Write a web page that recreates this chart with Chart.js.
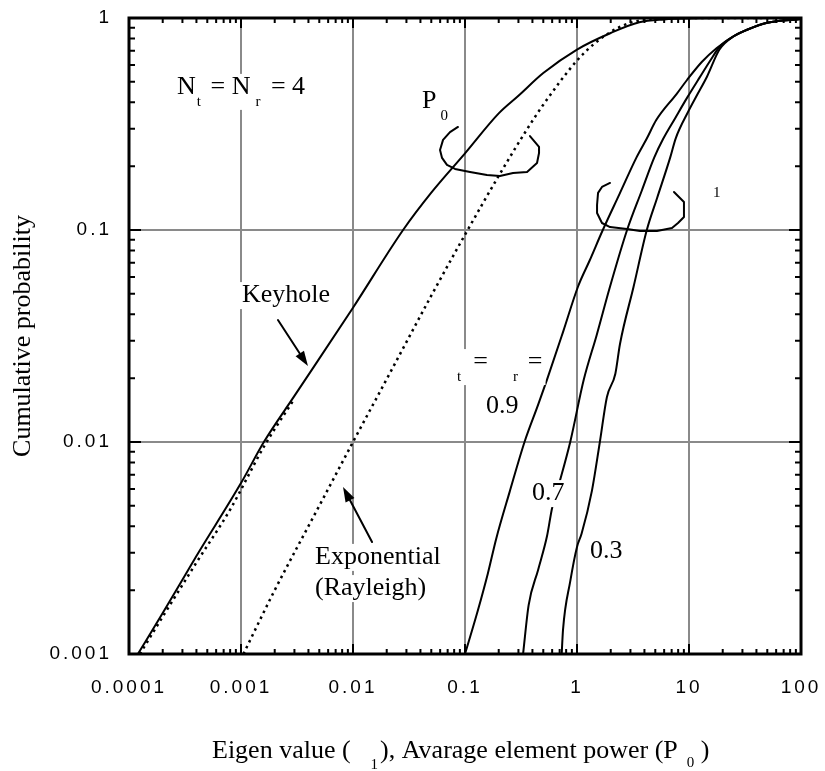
<!DOCTYPE html>
<html>
<head>
<meta charset="utf-8">
<script src="https://cdn.jsdelivr.net/npm/chart.js@4.4.1/dist/chart.umd.min.js"></script>
<style>
  body { margin: 0; background: #fff; }
  canvas { display: block; }
</style>
</head>
<body>
<canvas id="myChart" width="825" height="771"></canvas>
<script>
// tick labels
const xTickLabels = ['0.0001', '0.001', '0.01', '0.1', '1', '10', '100'];
const yTickLabels = ['0.001', '0.01', '0.1', '1'];

// keyhole channel, P0 (solid)
const keyholeX = [0.00012, 0.0002, 0.0004, 0.001, 0.0016, 0.003, 0.01, 0.028, 0.05, 0.1, 0.2, 0.3, 0.5, 1, 2, 3.6, 6, 10, 30, 100];
const keyholeY = [0.001, 0.00156, 0.0029, 0.0064, 0.01, 0.0165, 0.043, 0.1, 0.15, 0.23, 0.355, 0.43, 0.55, 0.71, 0.85, 0.955, 0.985, 0.995, 1, 1];
// dotted trace running along the keyhole curve at the low end
const keyholeDotX = [0.000125, 0.0002, 0.0004, 0.0008, 0.0016, 0.003];
const keyholeDotY = [0.001, 0.0015, 0.0027, 0.0048, 0.0095, 0.016];
// exponential (Rayleigh), dotted
const expX = [0.00105, 0.002, 0.005, 0.01, 0.02, 0.05, 0.1, 0.2, 0.36, 0.5, 1, 1.4, 2, 3, 5, 10, 100];
const expY = [0.001, 0.002, 0.005, 0.01, 0.0198, 0.049, 0.095, 0.18, 0.30, 0.39, 0.63, 0.75, 0.86, 0.95, 0.99, 1, 1];
// largest eigen value, rho_t = rho_r = 0.9 / 0.7 / 0.3
const rho09X = [0.1, 0.13, 0.16, 0.19, 0.25, 0.34, 0.45, 0.54, 0.75, 1.02, 1.3, 1.7, 2.4, 3.4, 4.2, 5.1, 7.8, 9.6, 13, 17.6, 25, 33, 50, 100];
const rho09Y = [0.001, 0.0016, 0.0024, 0.0035, 0.0058, 0.01, 0.015, 0.0197, 0.033, 0.054, 0.072, 0.1, 0.148, 0.22, 0.27, 0.33, 0.44, 0.51, 0.62, 0.72, 0.82, 0.88, 0.95, 0.99];
const rho07X = [0.33, 0.37, 0.45, 0.54, 0.6, 0.7, 0.87, 1.15, 1.5, 1.97, 2.8, 3.8, 4.9, 5.9, 7.5, 9.6, 12.5, 15.5, 18.7, 25, 33, 50, 100];
const rho07Y = [0.001, 0.0017, 0.0025, 0.0036, 0.0049, 0.0065, 0.01, 0.0197, 0.032, 0.054, 0.1, 0.154, 0.22, 0.27, 0.336, 0.42, 0.526, 0.63, 0.73, 0.82, 0.88, 0.95, 0.99];
const rho03X = [0.73, 0.75, 0.87, 1.0, 1.1, 1.36, 1.6, 1.85, 2.2, 2.42, 3.2, 4.2, 5.2, 6.8, 7.6, 9.8, 12, 14.5, 18.7, 25, 33, 50, 100];
const rho03Y = [0.001, 0.0013, 0.0022, 0.0032, 0.0037, 0.0059, 0.01, 0.0163, 0.021, 0.029, 0.054, 0.1, 0.142, 0.22, 0.27, 0.36, 0.44, 0.53, 0.71, 0.82, 0.88, 0.95, 0.99];

const SERIF = '"Liberation Serif", "Times New Roman", serif';
const SANS = '"Liberation Sans", Arial, sans-serif';

// annotations, positions in decades: [log10 x, log10 y]
const notes = [
  { at: [-3.571, -0.358], parts: [{t: 'N'}, {t: 't', sub: 1, dx: 1}, {t: ' = N', dx: 3}, {t: 'r', sub: 1, dx: 5}, {t: ' = 4', dx: 4}] },
  { at: [-1.384, -0.4245], parts: [{t: 'P'}, {t: '0', sub: 1, dx: 4}] },
  { at: [1.214, -0.844], parts: [{t: '1', sub: 1, dy: 0}] },
  { at: [-2.991, -1.34], parts: [{t: 'Keyhole'}] },
  { at: [-2.339, -2.575], parts: [{t: 'Exponential'}] },
  { at: [-2.339, -2.722], parts: [{t: '(Rayleigh)'}] },
  { at: [-1.071, -1.656], parts: [{t: 't', sub: 1}, {t: '=', dx: 12}, {t: 'r', sub: 1, dx: 25}, {t: '=', dx: 10}] },
  { at: [-0.8125, -1.863], parts: [{t: '0.9'}] },
  { at: [-0.402, -2.274], parts: [{t: '0.7'}] },
  { at: [0.116, -2.547], parts: [{t: '0.3'}] }
];
const braces = [
  [[-1.0625, -0.514], [-1.134, -0.538], [-1.196, -0.575], [-1.223, -0.623], [-1.205, -0.660], [-1.161, -0.693], [-1.089, -0.712],
   [-0.955, -0.726], [-0.804, -0.741], [-0.688, -0.745], [-0.571, -0.731], [-0.446, -0.726], [-0.357, -0.684], [-0.339, -0.637],
   [-0.339, -0.608], [-0.420, -0.557]],
  [[0.295, -0.778], [0.223, -0.797], [0.188, -0.825], [0.179, -0.882], [0.179, -0.920], [0.223, -0.967], [0.295, -0.986],
   [0.446, -0.995], [0.5625, -1.005], [0.714, -1.005], [0.848, -0.991], [0.902, -0.967], [0.955, -0.939], [0.955, -0.868],
   [0.866, -0.821]]
];
const arrows = [
  [[-2.670, -1.4245], [-2.402, -1.6415]],
  [[-1.830, -2.472], [-2.089, -2.212]]
];

function toPoints(xs, ys) { return xs.map((x, i) => ({x: x, y: ys[i]})); }
function isDecade(v) { const e = Math.log10(v); return Math.abs(e - Math.round(e)) < 1e-6; }

function pos(chart, p) {
  return [chart.scales.x.getPixelForValue(Math.pow(10, p[0])), chart.scales.y.getPixelForValue(Math.pow(10, p[1]))];
}

function drawRich(c, x, y, parts, bg) {
  let cx = x, hasSub = false;
  const items = parts.map(p => {
    const font = (p.sub ? 15 : 26) + 'px ' + SERIF;
    c.font = font;
    cx += p.dx || 0;
    const w = c.measureText(p.t).width;
    const it = {t: p.t, x: cx, y: y + (p.sub ? (p.dy !== undefined ? p.dy : 12) : 0), font: font};
    if (p.sub && p.dy === undefined) hasSub = true;
    cx += w;
    return it;
  });
  if (bg) {
    c.fillStyle = '#fff';
    c.fillRect(x - 3, y - 20, cx - x + 6, hasSub ? 36 : 27);
  }
  c.fillStyle = '#000';
  c.textAlign = 'left';
  c.textBaseline = 'alphabetic';
  items.forEach(it => { c.font = it.font; c.fillText(it.t, it.x, it.y); });
  return cx;
}

function drawArrow(c, a, b) {
  const ang = Math.atan2(b[1] - a[1], b[0] - a[0]), L = 15, W = 5;
  const bx = b[0] - L * Math.cos(ang), by = b[1] - L * Math.sin(ang);
  c.beginPath(); c.moveTo(a[0], a[1]); c.lineTo(bx, by); c.stroke();
  c.beginPath();
  c.moveTo(b[0], b[1]);
  c.lineTo(bx + W * Math.sin(ang), by - W * Math.cos(ang));
  c.lineTo(bx - W * Math.sin(ang), by + W * Math.cos(ang));
  c.closePath(); c.fill();
}

function noPad(s) { s.paddingLeft = 0; s.paddingRight = 0; s.paddingTop = 0; s.paddingBottom = 0; }

const decor = {
  id: 'decor',
  beforeDraw(chart) { chart.ctx.letterSpacing = '3px'; },
  beforeDatasetsDraw(chart) { chart.ctx.letterSpacing = '0px'; },
  afterDatasetsDraw(chart) {
    const c = chart.ctx;
    c.save();
    c.strokeStyle = '#000'; c.fillStyle = '#000';
    c.lineWidth = 2; c.lineJoin = 'round'; c.lineCap = 'round';
    braces.forEach(br => {
      c.beginPath();
      br.forEach((p, i) => { const q = pos(chart, p); if (i) c.lineTo(q[0], q[1]); else c.moveTo(q[0], q[1]); });
      c.stroke();
    });
    arrows.forEach(ar => drawArrow(c, pos(chart, ar[0]), pos(chart, ar[1])));
    notes.forEach(n => { const q = pos(chart, n.at); drawRich(c, q[0], q[1], n.parts, true); });
    c.restore();
  },
  afterDraw(chart) {
    const c = chart.ctx, a = chart.chartArea, sx = chart.scales.x, sy = chart.scales.y;
    c.save();
    c.strokeStyle = '#000';
    c.lineWidth = 2;
    c.beginPath();
    for (let d = -4; d <= 2; d++) {
      for (let k = 1; k <= 9; k++) {
        const v = k * Math.pow(10, d);
        if (v > 100.0001) break;
        const px = sx.getPixelForValue(v), len = k === 1 ? 10 : 5;
        c.moveTo(px, a.bottom); c.lineTo(px, a.bottom - len);
        c.moveTo(px, a.top); c.lineTo(px, a.top + len);
      }
    }
    for (let d = -3; d <= 0; d++) {
      for (let k = 1; k <= 9; k++) {
        const v = k * Math.pow(10, d);
        if (v > 1.0001) break;
        const py = sy.getPixelForValue(v), len = k === 1 ? 12 : 6;
        c.moveTo(a.left, py); c.lineTo(a.left + len, py);
        c.moveTo(a.right, py); c.lineTo(a.right - len, py);
      }
    }
    c.stroke();
    c.lineWidth = 3;
    c.strokeRect(a.left, a.top, a.right - a.left, a.bottom - a.top);

    // axis titles
    c.fillStyle = '#000';
    c.font = '26px ' + SERIF;
    c.save();
    c.translate(23, (a.top + a.bottom) / 2);
    c.rotate(-Math.PI / 2);
    c.textAlign = 'center';
    c.textBaseline = 'middle';
    c.fillText('Cumulative probability', 0, 0);
    c.restore();
    drawRich(c, 212, 758, [{t: 'Eigen value ('}, {t: '1', sub: 1, dx: 20, dy: 11}, {t: '), Avarage element power (P', dx: 2},
      {t: '0', sub: 1, dx: 9, dy: 9}, {t: ' )'}], false);
    c.restore();
  }
};

const solid = { borderColor: '#000', backgroundColor: '#000', borderWidth: 2, pointRadius: 0, showLine: true, cubicInterpolationMode: 'monotone' };
const dotted = Object.assign({}, solid, { borderWidth: 2.5, borderDash: [2.5, 4] });

new Chart(document.getElementById('myChart'), {
  type: 'scatter',
  data: {
    datasets: [
      Object.assign({ label: 'Keyhole', data: toPoints(keyholeX, keyholeY) }, solid),
      Object.assign({ label: 'Keyhole (dots)', data: toPoints(keyholeDotX, keyholeDotY) }, dotted),
      Object.assign({ label: 'Exponential (Rayleigh)', data: toPoints(expX, expY) }, dotted),
      Object.assign({ label: '0.9', data: toPoints(rho09X, rho09Y) }, solid),
      Object.assign({ label: '0.7', data: toPoints(rho07X, rho07Y) }, solid),
      Object.assign({ label: '0.3', data: toPoints(rho03X, rho03Y) }, solid)
    ]
  },
  options: {
    responsive: false,
    animation: false,
    devicePixelRatio: 1,
    layout: { padding: { top: 18, right: 24, left: 0, bottom: 0 } },
    plugins: { legend: { display: false }, tooltip: { enabled: false } },
    scales: {
      x: {
        type: 'logarithmic', min: 0.0001, max: 100, position: 'bottom',
        afterBuildTicks: s => { s.ticks = s.ticks.filter(t => isDecade(t.value)); },
        afterFit: s => { s.height = 117; noPad(s); },
        grid: { color: '#8a8a8a', lineWidth: 2, drawTicks: false },
        border: { display: false },
        ticks: {
          autoSkip: false, maxRotation: 0, padding: 22, color: '#000',
          font: { family: SANS, size: 19 },
          callback: v => xTickLabels[Math.round(Math.log10(v)) + 4]
        }
      },
      y: {
        type: 'logarithmic', min: 0.001, max: 1, position: 'left',
        afterBuildTicks: s => { s.ticks = s.ticks.filter(t => isDecade(t.value)); },
        afterFit: s => { s.width = 129; noPad(s); },
        grid: { color: '#8a8a8a', lineWidth: 2, drawTicks: false },
        border: { display: false },
        ticks: {
          autoSkip: false, padding: 17, color: '#000',
          font: { family: SANS, size: 19 },
          callback: v => yTickLabels[Math.round(Math.log10(v)) + 3]
        }
      }
    }
  },
  plugins: [decor]
});
</script>
</body>
</html>
